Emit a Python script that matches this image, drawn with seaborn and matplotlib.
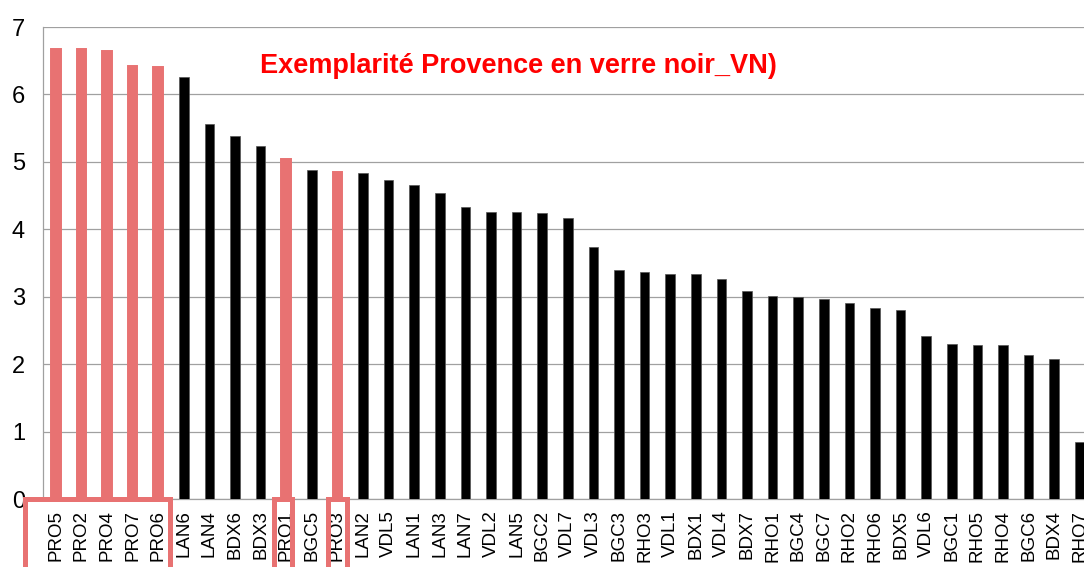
import matplotlib
matplotlib.use("Agg")
import matplotlib.pyplot as plt
import matplotlib.transforms as mtransforms
from matplotlib.patches import Rectangle
import seaborn as sns
import pandas as pd

# ---- data ----
categories = ["PRO5", "PRO2", "PRO4", "PRO7", "PRO6", "LAN6", "LAN4", "BDX6", "BDX3",
              "PRO1", "BGC5", "PRO3", "LAN2", "VDL5", "LAN1", "LAN3", "LAN7", "VDL2",
              "LAN5", "BGC2", "VDL7", "VDL3", "BGC3", "RHO3", "VDL1", "BDX1", "VDL4",
              "BDX7", "RHO1", "BGC4", "BGC7", "RHO2", "RHO6", "BDX5", "VDL6", "BGC1",
              "RHO5", "RHO4", "BGC6", "BDX4", "RHO7"]
values = [6.68, 6.68, 6.65, 6.42, 6.40, 6.26, 5.56, 5.39, 5.24,
          5.04, 4.88, 4.85, 4.84, 4.73, 4.66, 4.54, 4.33, 4.26,
          4.25, 4.24, 4.16, 3.74, 3.39, 3.36, 3.34, 3.34, 3.27,
          3.08, 3.01, 3.00, 2.96, 2.90, 2.83, 2.80, 2.42, 2.30,
          2.29, 2.28, 2.14, 2.08, 0.85]
highlight = ["PRO5", "PRO2", "PRO4", "PRO7", "PRO6", "PRO1", "PRO3"]
y_ticks = [0, 1, 2, 3, 4, 5, 6, 7]
title = "Exemplarité Provence en verre noir_VN)"

RED = "#E87272"
GRID = "#A0A0A0"

sns.set_theme(style="white")
plt.rcParams['font.family'] = ['Liberation Sans', 'DejaVu Sans']

df = pd.DataFrame({"cat": categories, "val": values})
df["groupe"] = ["Provence" if c in highlight else "Autre" for c in categories]

W, H = 1084, 567
fig = plt.figure(figsize=(W / 100, H / 100), dpi=100)
fig.patch.set_facecolor("white")
ax = fig.add_axes([43 / W, 1 - 499 / H, (1092.6 - 43) / W, (499 - 27) / H])

sns.barplot(data=df, x="cat", y="val", hue="groupe",
            palette={"Provence": RED, "Autre": "black"},
            dodge=False, width=0.37, saturation=1, legend=False, ax=ax, zorder=3)

for p in ax.patches:
    fc = p.get_facecolor()
    if fc[0] > 0.5:
        p.set_edgecolor(RED)
        p.set_linewidth(1.4)
    else:
        p.set_edgecolor("#555555")
        p.set_linewidth(0.5)

ax.set_xlim(-0.5, len(categories) - 0.5)
ax.set_ylim(0, 7)
ax.set_yticks(y_ticks)
ax.set_yticklabels([str(t) for t in y_ticks])
ax.set_xlabel("")
ax.set_ylabel("")

ax.set_xticks(range(len(categories)))
ax.set_xticklabels(categories, rotation=90, fontsize=13.5, color="black")
ax.set_xticks([i - 0.5 for i in range(len(categories) + 1)], minor=True)
ax.tick_params(axis="x", which="major", length=0, pad=8)
ax.tick_params(axis="x", which="minor", length=3.6, width=0.8, color=GRID, direction="out")
ax.tick_params(axis="y", which="major", length=5, width=0.8, color=GRID,
               direction="out", labelsize=17, pad=8, labelcolor="black")

ax.yaxis.grid(True, color=GRID, linewidth=0.9, zorder=0)
ax.set_axisbelow(True)
for s in ["top", "right"]:
    ax.spines[s].set_visible(False)
for s in ["left", "bottom"]:
    ax.spines[s].set_color(GRID)
    ax.spines[s].set_linewidth(0.9)

# highlight frames around Provence labels
trans = mtransforms.blended_transform_factory(ax.transData, ax.transAxes)
frames = [(-1.22, 4.48), (8.54, 9.21), (10.65, 11.39)]
for x0, x1 in frames:
    ax.add_patch(Rectangle((x0, -0.5), x1 - x0, 0.5, fill=False, edgecolor=RED,
                           linewidth=3.6, transform=trans, clip_on=False, zorder=5))

fig.text(518 / W, 1 - 73 / H, title, color="#FF0000", fontsize=19.5,
         fontweight="bold", ha="center", va="baseline")

fig.savefig("out.png", dpi=100)
